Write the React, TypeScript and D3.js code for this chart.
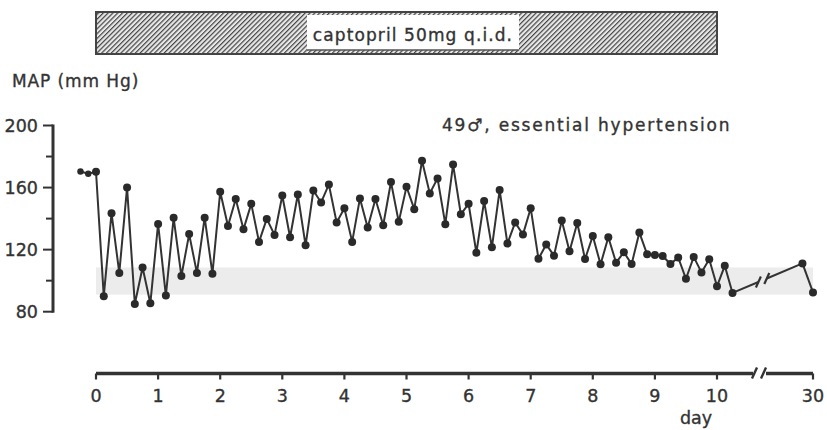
import React from "react";
import * as d3 from "d3";

// Mean arterial pressure readings (mm Hg), one every 3 hours from day 0
const mapValues = [
  170.2, 90, 143.5, 105, 160, 85, 108.5, 85.4, 136.6, 90.4,
  140.5, 103, 130, 105, 140.6, 104.5, 157.3, 135.2, 152.6, 133.1,
  149.5, 125, 139.8, 129.5, 154.9, 128, 155.5, 122.8, 158.1, 150.4,
  162, 137.5, 146.7, 125, 153, 134.2, 152.6, 135.7, 163.6, 137.9,
  160.5, 146.1, 177.3, 156.2, 165.9, 136.4, 174.8, 142.8, 149.5, 118,
  151.3, 121.5, 158.4, 123.9, 137.5, 129.7, 146.7, 114.1, 123.3, 116.1,
  138.7, 118.9, 137.2, 113.9, 128.8, 110.5, 128, 111.6, 118.3, 110.7,
  131, 117, 116.5, 115.9, 110.7, 115, 101.2, 115.3, 105.3, 113.8,
  96.4, 109.6, 92.1,
];
const readingsPerDay = 8;

// Pre-treatment baseline readings
const preDays = [-0.25, -0.125];
const preValues = [170.4, 168.9];

// Follow-up readings after the axis break
const lateDays = [29.83, 30];
const lateValues = [111.1, 92.4];

const normalRange = [91, 108.5];

const yTicks = [80, 120, 160, 200];
const yMinorTicks = [100, 140, 180];
const dayTicks = [0, 1, 2, 3, 4, 5, 6, 7, 8, 9, 10];
const lateTicks = [30];

const treatmentLabel = "captopril 50mg q.i.d.";
const treatmentDays = [0, 10];
const subjectLabel = "49\u2642, essential hypertension";

const W = 827;
const H = 430;
const ink = "#333";
const font = "'DejaVu Sans', Verdana, sans-serif";

export default function App() {
  const y = d3.scaleLinear().domain([80, 200]).range([311.7, 125.5]);
  const xMain = d3.scaleLinear().domain([0, 10]).range([96, 717]);
  const xLate = d3.scaleLinear().domain([29, 30]).range([751, 813]);
  const x = (d: number) => (d > 20 ? xLate(d) : xMain(d));

  const mainPts: [number, number][] = [
    ...preDays.map((d, i) => [x(d), y(preValues[i])] as [number, number]),
    ...mapValues.map((v, i) => [x(i / readingsPerDay), y(v)] as [number, number]),
  ];
  const latePts: [number, number][] = lateDays.map((d, i) => [x(d), y(lateValues[i])]);

  const line = d3.line();

  // broken connector between last treatment reading and follow-up
  const a = mainPts[mainPts.length - 1];
  const b = latePts[0];
  const lerp = (t: number): [number, number] => [a[0] + (b[0] - a[0]) * t, a[1] + (b[1] - a[1]) * t];
  const cut1 = lerp(0.37);
  const cut2 = lerp(0.49);
  const slash = (p: [number, number], key: string) => (
    <line key={key} x1={p[0] - 2.5} y1={p[1] + 5.5} x2={p[0] + 2.5} y2={p[1] - 5.5} stroke={ink} strokeWidth={2.2} />
  );

  const axisY = 373.5;
  const axisX = 53;
  const barTop = 12;
  const barBottom = 54;

  // slightly heavier glyphs for all labels
  const textStyle = { fill: ink, stroke: ink, strokeWidth: 0.35 };

  return (
    <svg width={W} height={H} style={{ position: "absolute", left: 0, top: 0, background: "#fff" }} fontFamily={font}>
      <defs>
        <pattern id="hatch" patternUnits="userSpaceOnUse" width={3.4} height={3.4} patternTransform="rotate(45)">
          <rect width={3.4} height={3.4} fill="#e8e8e8" />
          <line x1={0} y1={0} x2={0} y2={3.4} stroke="#444" strokeWidth={2.4} />
        </pattern>
      </defs>

      {/* treatment bar */}
      <rect
        x={x(treatmentDays[0])}
        y={barTop}
        width={x(treatmentDays[1]) - x(treatmentDays[0])}
        height={barBottom - barTop}
        fill="url(#hatch)"
        stroke="#444"
        strokeWidth={2}
      />
      <rect x={307} y={barTop + 3} width={212} height={barBottom - barTop - 7} fill="#fff" />
      <line x1={307} x2={519} y1={barBottom - 4} y2={barBottom - 4} stroke="#555" strokeWidth={1.4} />
      <text x={413} y={41} textAnchor="middle" fontSize={17} letterSpacing={1.1} {...textStyle}>
        {treatmentLabel}
      </text>

      {/* y axis title */}
      <text x={12} y={86.5} fontSize={17} letterSpacing={0.9} {...textStyle}>
        MAP (mm Hg)
      </text>

      {/* normal range band */}
      <rect
        x={x(0)}
        y={y(normalRange[1])}
        width={x(30) - x(0)}
        height={y(normalRange[0]) - y(normalRange[1])}
        fill="#ececec"
      />

      {/* y axis */}
      <line x1={axisX} x2={axisX} y1={y(200) - 1} y2={y(80) + 1} stroke={ink} strokeWidth={3} />
      {yTicks.map((t) => (
        <g key={t}>
          <line x1={axisX - 10} x2={axisX} y1={y(t)} y2={y(t)} stroke={ink} strokeWidth={2} />
          <text x={38} y={y(t) + 6.5} textAnchor="end" fontSize={17.5} {...textStyle}>
            {t}
          </text>
        </g>
      ))}
      {yMinorTicks.map((t) => (
        <line key={t} x1={axisX - 7} x2={axisX} y1={y(t)} y2={y(t)} stroke={ink} strokeWidth={2} />
      ))}

      {/* x axis with break */}
      <line x1={x(0)} x2={753} y1={axisY} y2={axisY} stroke={ink} strokeWidth={3.5} />
      <line x1={766} x2={x(30)} y1={axisY} y2={axisY} stroke={ink} strokeWidth={3.5} />
      <line x1={752} y1={axisY + 5} x2={757} y2={axisY - 6} stroke={ink} strokeWidth={2.4} />
      <line x1={761} y1={axisY + 5} x2={766} y2={axisY - 6} stroke={ink} strokeWidth={2.4} />
      {[...dayTicks, ...lateTicks].map((d) => (
        <g key={d}>
          <line x1={x(d)} x2={x(d)} y1={axisY} y2={axisY + 6} stroke={ink} strokeWidth={2.2} />
          <text x={x(d)} y={401.5} textAnchor="middle" fontSize={17.5} {...textStyle}>
            {d}
          </text>
        </g>
      ))}
      <text x={696} y={424} textAnchor="middle" fontSize={17.5} {...textStyle}>
        day
      </text>

      {/* subject annotation */}
      <text x={442} y={131} fontSize={17} letterSpacing={1.8} {...textStyle}>
        {subjectLabel}
      </text>

      {/* MAP trace */}
      <path d={line(mainPts) ?? ""} fill="none" stroke={ink} strokeWidth={2} strokeLinejoin="miter" />
      <path d={line([a, cut1]) ?? ""} fill="none" stroke={ink} strokeWidth={2} />
      <path d={line([cut2, b]) ?? ""} fill="none" stroke={ink} strokeWidth={2} />
      {slash(cut1, "s1")}
      {slash(cut2, "s2")}
      <path d={line(latePts) ?? ""} fill="none" stroke={ink} strokeWidth={2} />

      {mainPts.map((p, i) => (
        <circle key={i} cx={p[0]} cy={p[1]} r={i < preDays.length ? 3.2 : 4} fill="#2a2a2a" />
      ))}
      {latePts.map((p, i) => (
        <circle key={`l${i}`} cx={p[0]} cy={p[1]} r={4} fill="#2a2a2a" />
      ))}
    </svg>
  );
}
